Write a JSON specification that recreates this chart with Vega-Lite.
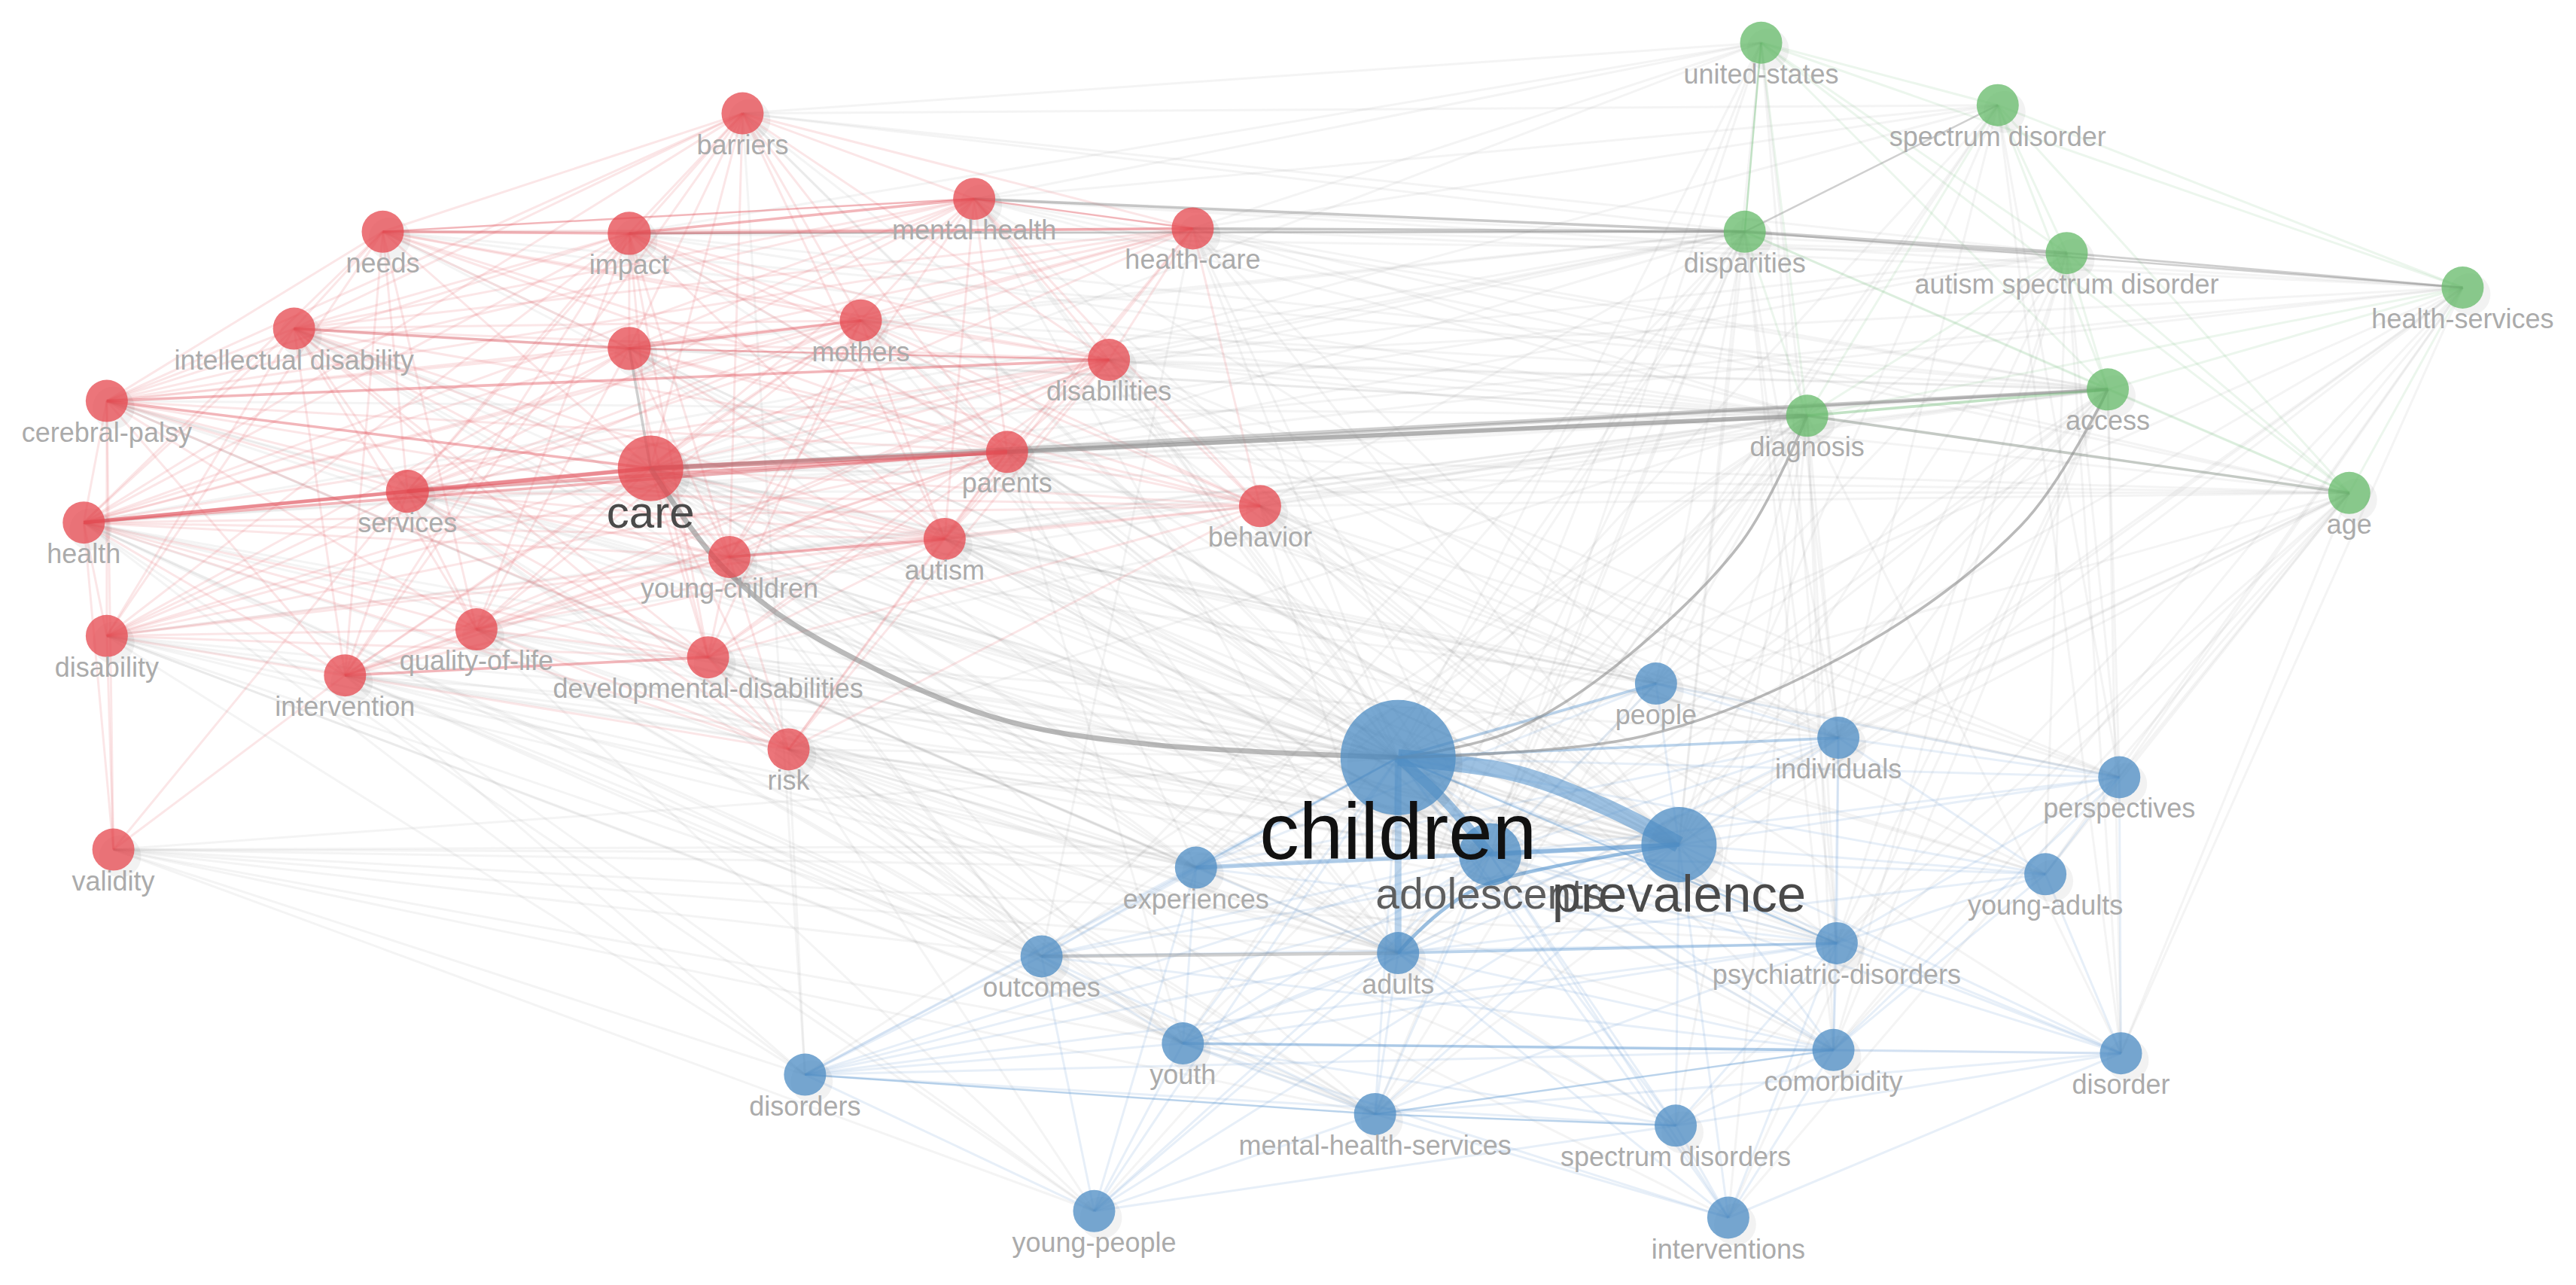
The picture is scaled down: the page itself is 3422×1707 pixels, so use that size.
{
"$schema":"https://vega.github.io/schema/vega-lite/v6.json",
"autosize":{"type":"fit","contains":"padding"},
"width":3422,"height":1707,"padding":0,"background":"white",
"config":{"view":{"stroke":null}},
"resolve":{"scale":{"size":"independent"}},
"datasets":{
"nodes":[
{"id":"bar","label":"barriers","cluster":"red","x":452,"y":69,"occ":134},
{"id":"nee","label":"needs","cluster":"red","x":233,"y":141,"occ":134},
{"id":"imp","label":"impact","cluster":"red","x":383,"y":142,"occ":140},
{"id":"men","label":"mental-health","cluster":"red","x":593,"y":121,"occ":134},
{"id":"hca","label":"health-care","cluster":"red","x":726,"y":139,"occ":134},
{"id":"int","label":"intellectual disability","cluster":"red","x":179,"y":200,"occ":134},
{"id":"unl","label":"","cluster":"red","x":383,"y":212,"occ":140},
{"id":"dis","label":"disabilities","cluster":"red","x":675,"y":219,"occ":134},
{"id":"mot","label":"mothers","cluster":"red","x":524,"y":195,"occ":134},
{"id":"cer","label":"cerebral-palsy","cluster":"red","x":65,"y":244,"occ":134},
{"id":"car","label":"care","cluster":"red","x":396,"y":285,"occ":325},
{"id":"ser","label":"services","cluster":"red","x":248,"y":299,"occ":140},
{"id":"par","label":"parents","cluster":"red","x":613,"y":275,"occ":134},
{"id":"beh","label":"behavior","cluster":"red","x":767,"y":308,"occ":134},
{"id":"hea","label":"health","cluster":"red","x":51,"y":318,"occ":134},
{"id":"yng","label":"young-children","cluster":"red","x":444,"y":339,"occ":134},
{"id":"aut","label":"autism","cluster":"red","x":575,"y":328,"occ":134},
{"id":"dbl","label":"disability","cluster":"red","x":65,"y":387,"occ":134},
{"id":"qol","label":"quality-of-life","cluster":"red","x":290,"y":383,"occ":134},
{"id":"dev","label":"developmental-disabilities","cluster":"red","x":431,"y":400,"occ":134},
{"id":"itv","label":"intervention","cluster":"red","x":210,"y":411,"occ":134},
{"id":"ris","label":"risk","cluster":"red","x":480,"y":456,"occ":134},
{"id":"val","label":"validity","cluster":"red","x":69,"y":517,"occ":134},
{"id":"uni","label":"united-states","cluster":"green","x":1072,"y":26,"occ":134},
{"id":"spe","label":"spectrum disorder","cluster":"green","x":1216,"y":64,"occ":134},
{"id":"dpa","label":"disparities","cluster":"green","x":1062,"y":141,"occ":134},
{"id":"asd","label":"autism spectrum disorder","cluster":"green","x":1258,"y":154,"occ":134},
{"id":"hse","label":"health-services","cluster":"green","x":1499,"y":175,"occ":134},
{"id":"acc","label":"access","cluster":"green","x":1283,"y":237,"occ":134},
{"id":"dia","label":"diagnosis","cluster":"green","x":1100,"y":253,"occ":134},
{"id":"age","label":"age","cluster":"green","x":1430,"y":300,"occ":134},
{"id":"peo","label":"people","cluster":"blue","x":1008,"y":416,"occ":134},
{"id":"ind","label":"individuals","cluster":"blue","x":1119,"y":449,"occ":134},
{"id":"per","label":"perspectives","cluster":"blue","x":1290,"y":473,"occ":134},
{"id":"chi","label":"children","cluster":"blue","x":851,"y":461,"occ":1000},
{"id":"pre","label":"prevalence","cluster":"blue","x":1022,"y":514,"occ":427},
{"id":"ado","label":"adolescents","cluster":"blue","x":907,"y":520,"occ":295},
{"id":"exp","label":"experiences","cluster":"blue","x":728,"y":528,"occ":134},
{"id":"yad","label":"young-adults","cluster":"blue","x":1245,"y":532,"occ":134},
{"id":"out","label":"outcomes","cluster":"blue","x":634,"y":582,"occ":134},
{"id":"adu","label":"adults","cluster":"blue","x":851,"y":580,"occ":134},
{"id":"psy","label":"psychiatric-disorders","cluster":"blue","x":1118,"y":574,"occ":134},
{"id":"you","label":"youth","cluster":"blue","x":720,"y":635,"occ":134},
{"id":"com","label":"comorbidity","cluster":"blue","x":1116,"y":639,"occ":134},
{"id":"dso","label":"disorder","cluster":"blue","x":1291,"y":641,"occ":134},
{"id":"dsr","label":"disorders","cluster":"blue","x":490,"y":654,"occ":134},
{"id":"mhs","label":"mental-health-services","cluster":"blue","x":837,"y":678,"occ":134},
{"id":"sdi","label":"spectrum disorders","cluster":"blue","x":1020,"y":685,"occ":134},
{"id":"ypl","label":"young-people","cluster":"blue","x":666,"y":737,"occ":134},
{"id":"ivn","label":"interventions","cluster":"blue","x":1052,"y":741,"occ":134}
],
"links_between":[
{"a":"bar","b":"uni"},{"a":"bar","b":"spe"},{"a":"bar","b":"dpa"},{"a":"bar","b":"asd"},{"a":"bar","b":"chi"},{"a":"bar","b":"pre"},{"a":"bar","b":"dsr"},{"a":"bar","b":"ado"},
{"a":"nee","b":"dpa"},{"a":"nee","b":"chi"},{"a":"nee","b":"dia"},{"a":"nee","b":"acc"},{"a":"nee","b":"pre"},
{"a":"imp","b":"dpa"},{"a":"imp","b":"dia"},{"a":"imp","b":"chi"},{"a":"imp","b":"pre"},{"a":"imp","b":"acc"},{"a":"imp","b":"asd"},{"a":"imp","b":"uni"},
{"a":"men","b":"dpa"},{"a":"men","b":"uni"},{"a":"men","b":"spe"},{"a":"men","b":"asd"},{"a":"men","b":"dia"},{"a":"men","b":"acc"},{"a":"men","b":"chi"},{"a":"men","b":"pre"},{"a":"men","b":"ado"},{"a":"men","b":"adu"},{"a":"men","b":"ind"},{"a":"men","b":"hse"},{"a":"men","b":"age"},
{"a":"hca","b":"dpa"},{"a":"hca","b":"uni"},{"a":"hca","b":"spe"},{"a":"hca","b":"asd"},{"a":"hca","b":"hse"},{"a":"hca","b":"acc"},{"a":"hca","b":"dia"},{"a":"hca","b":"age"},{"a":"hca","b":"chi"},{"a":"hca","b":"pre"},{"a":"hca","b":"ado"},{"a":"hca","b":"peo"},{"a":"hca","b":"out"},
{"a":"int","b":"chi"},{"a":"int","b":"pre"},{"a":"int","b":"dia"},{"a":"int","b":"adu"},{"a":"int","b":"ado"},{"a":"int","b":"exp"},
{"a":"unl","b":"chi"},{"a":"unl","b":"pre"},{"a":"unl","b":"dia"},{"a":"unl","b":"acc"},{"a":"unl","b":"dpa"},{"a":"unl","b":"ado"},{"a":"unl","b":"adu"},
{"a":"dis","b":"dia"},{"a":"dis","b":"acc"},{"a":"dis","b":"dpa"},{"a":"dis","b":"asd"},{"a":"dis","b":"chi"},{"a":"dis","b":"pre"},{"a":"dis","b":"ado"},{"a":"dis","b":"ind"},{"a":"dis","b":"peo"},{"a":"dis","b":"per"},{"a":"dis","b":"age"},{"a":"dis","b":"hse"},
{"a":"mot","b":"dia"},{"a":"mot","b":"acc"},{"a":"mot","b":"dpa"},{"a":"mot","b":"chi"},{"a":"mot","b":"pre"},{"a":"mot","b":"ado"},{"a":"mot","b":"adu"},{"a":"mot","b":"per"},
{"a":"cer","b":"chi"},{"a":"cer","b":"pre"},{"a":"cer","b":"ado"},{"a":"cer","b":"adu"},{"a":"cer","b":"dia"},{"a":"cer","b":"exp"},
{"a":"car","b":"pre"},{"a":"car","b":"ado"},{"a":"car","b":"adu"},{"a":"car","b":"dpa"},{"a":"car","b":"asd"},{"a":"car","b":"age"},{"a":"car","b":"hse"},{"a":"car","b":"uni"},{"a":"car","b":"spe"},{"a":"car","b":"peo"},{"a":"car","b":"ind"},{"a":"car","b":"out"},{"a":"car","b":"you"},{"a":"car","b":"mhs"},{"a":"car","b":"exp"},{"a":"car","b":"psy"},{"a":"car","b":"per"},{"a":"car","b":"yad"},{"a":"car","b":"com"},{"a":"car","b":"sdi"},
{"a":"ser","b":"chi"},{"a":"ser","b":"pre"},{"a":"ser","b":"ado"},{"a":"ser","b":"dia"},{"a":"ser","b":"acc"},{"a":"ser","b":"dpa"},{"a":"ser","b":"you"},{"a":"ser","b":"mhs"},{"a":"ser","b":"age"},{"a":"ser","b":"out"},
{"a":"par","b":"chi"},{"a":"par","b":"pre"},{"a":"par","b":"ado"},{"a":"par","b":"dpa"},{"a":"par","b":"asd"},{"a":"par","b":"adu"},{"a":"par","b":"psy"},{"a":"par","b":"exp"},{"a":"par","b":"ind"},{"a":"par","b":"peo"},{"a":"par","b":"age"},{"a":"par","b":"hse"},{"a":"par","b":"you"},
{"a":"beh","b":"chi"},{"a":"beh","b":"pre"},{"a":"beh","b":"ado"},{"a":"beh","b":"dia"},{"a":"beh","b":"acc"},{"a":"beh","b":"dpa"},{"a":"beh","b":"psy"},{"a":"beh","b":"ind"},{"a":"beh","b":"peo"},{"a":"beh","b":"adu"},{"a":"beh","b":"per"},{"a":"beh","b":"com"},{"a":"beh","b":"age"},{"a":"beh","b":"yad"},{"a":"beh","b":"dso"},
{"a":"hea","b":"chi"},{"a":"hea","b":"pre"},{"a":"hea","b":"ado"},{"a":"hea","b":"adu"},{"a":"hea","b":"dia"},{"a":"hea","b":"acc"},{"a":"hea","b":"dpa"},{"a":"hea","b":"you"},{"a":"hea","b":"mhs"},{"a":"hea","b":"out"},{"a":"hea","b":"ypl"},{"a":"hea","b":"dsr"},
{"a":"yng","b":"chi"},{"a":"yng","b":"pre"},{"a":"yng","b":"ado"},{"a":"yng","b":"adu"},{"a":"yng","b":"exp"},{"a":"yng","b":"dia"},{"a":"yng","b":"out"},{"a":"yng","b":"acc"},{"a":"yng","b":"peo"},{"a":"yng","b":"psy"},
{"a":"aut","b":"chi"},{"a":"aut","b":"pre"},{"a":"aut","b":"ado"},{"a":"aut","b":"dia"},{"a":"aut","b":"acc"},{"a":"aut","b":"adu"},{"a":"aut","b":"psy"},{"a":"aut","b":"ind"},{"a":"aut","b":"peo"},{"a":"aut","b":"com"},{"a":"aut","b":"per"},{"a":"aut","b":"yad"},
{"a":"dbl","b":"chi"},{"a":"dbl","b":"pre"},{"a":"dbl","b":"ado"},{"a":"dbl","b":"adu"},{"a":"dbl","b":"exp"},{"a":"dbl","b":"out"},{"a":"dbl","b":"you"},{"a":"dbl","b":"dsr"},{"a":"dbl","b":"mhs"},{"a":"dbl","b":"dia"},
{"a":"qol","b":"chi"},{"a":"qol","b":"pre"},{"a":"qol","b":"ado"},{"a":"qol","b":"adu"},{"a":"qol","b":"dia"},{"a":"qol","b":"out"},{"a":"qol","b":"exp"},{"a":"qol","b":"mhs"},{"a":"qol","b":"you"},{"a":"qol","b":"ypl"},
{"a":"dev","b":"chi"},{"a":"dev","b":"pre"},{"a":"dev","b":"ado"},{"a":"dev","b":"adu"},{"a":"dev","b":"dia"},{"a":"dev","b":"psy"},{"a":"dev","b":"exp"},{"a":"dev","b":"out"},{"a":"dev","b":"you"},{"a":"dev","b":"ind"},
{"a":"itv","b":"chi"},{"a":"itv","b":"pre"},{"a":"itv","b":"ado"},{"a":"itv","b":"adu"},{"a":"itv","b":"dsr"},{"a":"itv","b":"out"},{"a":"itv","b":"you"},{"a":"itv","b":"ypl"},{"a":"itv","b":"mhs"},{"a":"itv","b":"exp"},
{"a":"ris","b":"chi"},{"a":"ris","b":"pre"},{"a":"ris","b":"ado"},{"a":"ris","b":"adu"},{"a":"ris","b":"exp"},{"a":"ris","b":"out"},{"a":"ris","b":"dsr"},{"a":"ris","b":"you"},{"a":"ris","b":"psy"},{"a":"ris","b":"com"},{"a":"ris","b":"dia"},{"a":"ris","b":"ivn"},{"a":"ris","b":"sdi"},{"a":"ris","b":"ypl"},{"a":"ris","b":"mhs"},
{"a":"val","b":"chi"},{"a":"val","b":"pre"},{"a":"val","b":"ado"},{"a":"val","b":"exp"},{"a":"val","b":"adu"},{"a":"val","b":"out"},{"a":"val","b":"dsr"},{"a":"val","b":"ypl"},{"a":"val","b":"mhs"},{"a":"val","b":"you"},{"a":"val","b":"psy"},
{"a":"uni","b":"chi"},{"a":"uni","b":"pre"},{"a":"uni","b":"ado"},{"a":"uni","b":"adu"},{"a":"uni","b":"psy"},{"a":"uni","b":"ind"},
{"a":"spe","b":"chi"},{"a":"spe","b":"pre"},{"a":"spe","b":"ado"},{"a":"spe","b":"adu"},{"a":"spe","b":"per"},{"a":"spe","b":"ind"},{"a":"spe","b":"dso"},
{"a":"dpa","b":"chi"},{"a":"dpa","b":"pre"},{"a":"dpa","b":"ado"},{"a":"dpa","b":"adu"},{"a":"dpa","b":"psy"},{"a":"dpa","b":"ind"},{"a":"dpa","b":"mhs"},{"a":"dpa","b":"out"},{"a":"dpa","b":"you"},{"a":"dpa","b":"com"},{"a":"dpa","b":"exp"},{"a":"dpa","b":"peo"},
{"a":"asd","b":"chi"},{"a":"asd","b":"pre"},{"a":"asd","b":"adu"},{"a":"asd","b":"ind"},{"a":"asd","b":"per"},{"a":"asd","b":"yad"},{"a":"asd","b":"psy"},{"a":"asd","b":"dso"},{"a":"asd","b":"com"},
{"a":"hse","b":"chi"},{"a":"hse","b":"pre"},{"a":"hse","b":"ado"},{"a":"hse","b":"per"},{"a":"hse","b":"yad"},{"a":"hse","b":"dso"},{"a":"hse","b":"ind"},{"a":"hse","b":"psy"},{"a":"hse","b":"mhs"},{"a":"hse","b":"com"},
{"a":"acc","b":"pre"},{"a":"acc","b":"ado"},{"a":"acc","b":"peo"},{"a":"acc","b":"ind"},{"a":"acc","b":"per"},{"a":"acc","b":"dso"},{"a":"acc","b":"psy"},{"a":"acc","b":"mhs"},{"a":"acc","b":"com"},{"a":"acc","b":"adu"},{"a":"acc","b":"ivn"},
{"a":"dia","b":"pre"},{"a":"dia","b":"ado"},{"a":"dia","b":"adu"},{"a":"dia","b":"peo"},{"a":"dia","b":"ind"},{"a":"dia","b":"psy"},{"a":"dia","b":"you"},{"a":"dia","b":"com"},{"a":"dia","b":"out"},{"a":"dia","b":"exp"},{"a":"dia","b":"sdi"},{"a":"dia","b":"mhs"},{"a":"dia","b":"ivn"},{"a":"dia","b":"ypl"},{"a":"dia","b":"dsr"},{"a":"dia","b":"dso"},
{"a":"age","b":"chi"},{"a":"age","b":"pre"},{"a":"age","b":"ado"},{"a":"age","b":"adu"},{"a":"age","b":"ind"},{"a":"age","b":"per"},{"a":"age","b":"yad"},{"a":"age","b":"dso"},{"a":"age","b":"psy"},{"a":"age","b":"com"},{"a":"age","b":"sdi"},{"a":"age","b":"ivn"}
],
"links_red":[
{"a":"bar","b":"nee"},{"a":"bar","b":"imp"},{"a":"bar","b":"men"},{"a":"bar","b":"hca"},{"a":"bar","b":"int"},{"a":"bar","b":"unl"},{"a":"bar","b":"mot"},{"a":"bar","b":"dis"},{"a":"bar","b":"car"},{"a":"bar","b":"ser"},{"a":"bar","b":"par"},{"a":"bar","b":"yng"},{"a":"bar","b":"aut"},{"a":"bar","b":"hea"},{"a":"bar","b":"cer"},{"a":"bar","b":"itv"},
{"a":"nee","b":"hca"},{"a":"nee","b":"int"},{"a":"nee","b":"unl"},{"a":"nee","b":"mot"},{"a":"nee","b":"dis"},{"a":"nee","b":"car"},{"a":"nee","b":"ser"},{"a":"nee","b":"par"},{"a":"nee","b":"cer"},{"a":"nee","b":"hea"},{"a":"nee","b":"dbl"},{"a":"nee","b":"qol"},{"a":"nee","b":"itv"},{"a":"nee","b":"beh"},
{"a":"imp","b":"int"},{"a":"imp","b":"unl"},{"a":"imp","b":"mot"},{"a":"imp","b":"dis"},{"a":"imp","b":"car"},{"a":"imp","b":"ser"},{"a":"imp","b":"par"},{"a":"imp","b":"cer"},{"a":"imp","b":"hea"},{"a":"imp","b":"yng"},{"a":"imp","b":"aut"},{"a":"imp","b":"beh"},{"a":"imp","b":"dbl"},{"a":"imp","b":"qol"},{"a":"imp","b":"dev"},{"a":"imp","b":"itv"},
{"a":"men","b":"unl"},{"a":"men","b":"mot"},{"a":"men","b":"dis"},{"a":"men","b":"car"},{"a":"men","b":"par"},{"a":"men","b":"ser"},{"a":"men","b":"int"},{"a":"men","b":"cer"},{"a":"men","b":"hea"},{"a":"men","b":"yng"},{"a":"men","b":"aut"},{"a":"men","b":"beh"},
{"a":"hca","b":"unl"},{"a":"hca","b":"mot"},{"a":"hca","b":"dis"},{"a":"hca","b":"car"},{"a":"hca","b":"par"},{"a":"hca","b":"ser"},{"a":"hca","b":"cer"},{"a":"hca","b":"hea"},{"a":"hca","b":"beh"},{"a":"hca","b":"int"},{"a":"hca","b":"aut"},
{"a":"int","b":"mot"},{"a":"int","b":"dis"},{"a":"int","b":"cer"},{"a":"int","b":"car"},{"a":"int","b":"ser"},{"a":"int","b":"par"},{"a":"int","b":"hea"},{"a":"int","b":"dbl"},{"a":"int","b":"qol"},{"a":"int","b":"dev"},{"a":"int","b":"itv"},{"a":"int","b":"aut"},{"a":"int","b":"yng"},{"a":"int","b":"ris"},
{"a":"unl","b":"ser"},{"a":"unl","b":"par"},{"a":"unl","b":"cer"},{"a":"unl","b":"hea"},{"a":"unl","b":"dbl"},{"a":"unl","b":"beh"},{"a":"unl","b":"yng"},{"a":"unl","b":"aut"},{"a":"unl","b":"qol"},{"a":"unl","b":"dev"},
{"a":"mot","b":"dis"},{"a":"mot","b":"car"},{"a":"mot","b":"ser"},{"a":"mot","b":"par"},{"a":"mot","b":"cer"},{"a":"mot","b":"hea"},{"a":"mot","b":"dbl"},{"a":"mot","b":"yng"},{"a":"mot","b":"aut"},{"a":"mot","b":"beh"},{"a":"mot","b":"dev"},{"a":"mot","b":"itv"},{"a":"mot","b":"qol"},
{"a":"dis","b":"car"},{"a":"dis","b":"ser"},{"a":"dis","b":"par"},{"a":"dis","b":"hea"},{"a":"dis","b":"dbl"},{"a":"dis","b":"beh"},{"a":"dis","b":"aut"},{"a":"dis","b":"yng"},{"a":"dis","b":"qol"},{"a":"dis","b":"dev"},{"a":"dis","b":"itv"},{"a":"dis","b":"ris"},
{"a":"cer","b":"ser"},{"a":"cer","b":"hea"},{"a":"cer","b":"dbl"},{"a":"cer","b":"par"},{"a":"cer","b":"qol"},{"a":"cer","b":"itv"},{"a":"cer","b":"yng"},{"a":"cer","b":"aut"},{"a":"cer","b":"dev"},{"a":"cer","b":"val"},
{"a":"car","b":"beh"},{"a":"car","b":"yng"},{"a":"car","b":"aut"},{"a":"car","b":"dbl"},{"a":"car","b":"qol"},{"a":"car","b":"dev"},{"a":"car","b":"itv"},{"a":"car","b":"ris"},
{"a":"ser","b":"beh"},{"a":"ser","b":"yng"},{"a":"ser","b":"aut"},{"a":"ser","b":"dbl"},{"a":"ser","b":"qol"},{"a":"ser","b":"dev"},{"a":"ser","b":"itv"},{"a":"ser","b":"val"},{"a":"ser","b":"ris"},
{"a":"par","b":"beh"},{"a":"par","b":"yng"},{"a":"par","b":"aut"},{"a":"par","b":"dbl"},{"a":"par","b":"qol"},{"a":"par","b":"dev"},{"a":"par","b":"itv"},{"a":"par","b":"ris"},
{"a":"beh","b":"yng"},{"a":"beh","b":"aut"},{"a":"beh","b":"hea"},{"a":"beh","b":"dev"},{"a":"beh","b":"ris"},
{"a":"hea","b":"dbl"},{"a":"hea","b":"qol"},{"a":"hea","b":"dev"},{"a":"hea","b":"itv"},{"a":"hea","b":"yng"},{"a":"hea","b":"aut"},{"a":"hea","b":"val"},{"a":"hea","b":"ris"},
{"a":"yng","b":"dbl"},{"a":"yng","b":"qol"},{"a":"yng","b":"dev"},{"a":"yng","b":"itv"},{"a":"yng","b":"ris"},
{"a":"aut","b":"dev"},{"a":"aut","b":"dbl"},{"a":"aut","b":"qol"},{"a":"aut","b":"itv"},{"a":"aut","b":"ris"},
{"a":"dbl","b":"qol"},{"a":"dbl","b":"dev"},{"a":"dbl","b":"itv"},{"a":"dbl","b":"val"},
{"a":"qol","b":"dev"},{"a":"qol","b":"itv"},{"a":"qol","b":"ris"},{"a":"dev","b":"ris"},{"a":"itv","b":"val"},{"a":"itv","b":"ris"}
],
"links_green":[
{"a":"uni","b":"spe"},{"a":"uni","b":"asd"},{"a":"uni","b":"dia"},{"a":"uni","b":"acc"},{"a":"uni","b":"hse"},{"a":"uni","b":"age"},
{"a":"spe","b":"asd"},{"a":"spe","b":"acc"},{"a":"spe","b":"hse"},{"a":"spe","b":"dia"},{"a":"spe","b":"age"},
{"a":"dpa","b":"dia"},{"a":"dpa","b":"acc"},{"a":"dpa","b":"age"},
{"a":"asd","b":"acc"},{"a":"asd","b":"dia"},{"a":"asd","b":"age"},
{"a":"hse","b":"acc"},{"a":"hse","b":"dia"},{"a":"hse","b":"age"},{"a":"acc","b":"age"},{"a":"dia","b":"age"}
],
"links_blue":[
{"a":"chi","b":"per"},{"a":"chi","b":"yad"},{"a":"chi","b":"out"},{"a":"chi","b":"you"},{"a":"chi","b":"com"},{"a":"chi","b":"dso"},{"a":"chi","b":"dsr"},{"a":"chi","b":"mhs"},{"a":"chi","b":"sdi"},{"a":"chi","b":"ypl"},{"a":"chi","b":"ivn"},
{"a":"pre","b":"peo"},{"a":"pre","b":"ind"},{"a":"pre","b":"per"},{"a":"pre","b":"yad"},{"a":"pre","b":"out"},{"a":"pre","b":"you"},{"a":"pre","b":"com"},{"a":"pre","b":"dso"},{"a":"pre","b":"dsr"},{"a":"pre","b":"mhs"},{"a":"pre","b":"sdi"},{"a":"pre","b":"ivn"},{"a":"pre","b":"ypl"},
{"a":"ado","b":"exp"},{"a":"ado","b":"out"},{"a":"ado","b":"psy"},{"a":"ado","b":"you"},{"a":"ado","b":"ind"},{"a":"ado","b":"peo"},{"a":"ado","b":"per"},{"a":"ado","b":"yad"},{"a":"ado","b":"com"},{"a":"ado","b":"dso"},{"a":"ado","b":"dsr"},{"a":"ado","b":"mhs"},{"a":"ado","b":"sdi"},{"a":"ado","b":"ypl"},{"a":"ado","b":"ivn"},
{"a":"adu","b":"exp"},{"a":"adu","b":"you"},{"a":"adu","b":"mhs"},{"a":"adu","b":"com"},{"a":"adu","b":"dsr"},{"a":"adu","b":"ypl"},{"a":"adu","b":"ivn"},{"a":"adu","b":"sdi"},{"a":"adu","b":"ind"},{"a":"adu","b":"yad"},
{"a":"you","b":"mhs"},{"a":"you","b":"dsr"},{"a":"you","b":"ypl"},{"a":"you","b":"out"},{"a":"you","b":"exp"},{"a":"you","b":"psy"},{"a":"you","b":"sdi"},{"a":"you","b":"dso"},{"a":"you","b":"ivn"},
{"a":"mhs","b":"ypl"},{"a":"mhs","b":"ivn"},{"a":"mhs","b":"psy"},{"a":"mhs","b":"out"},{"a":"mhs","b":"dso"},
{"a":"dsr","b":"ypl"},{"a":"dsr","b":"com"},{"a":"dsr","b":"out"},{"a":"dsr","b":"exp"},{"a":"dsr","b":"psy"},{"a":"dsr","b":"sdi"},
{"a":"ypl","b":"out"},{"a":"ypl","b":"sdi"},{"a":"ypl","b":"exp"},
{"a":"sdi","b":"com"},{"a":"sdi","b":"ivn"},{"a":"sdi","b":"psy"},{"a":"sdi","b":"dso"},
{"a":"ivn","b":"com"},{"a":"ivn","b":"psy"},{"a":"ivn","b":"dso"},
{"a":"com","b":"psy"},{"a":"com","b":"dso"},{"a":"com","b":"per"},{"a":"com","b":"yad"},{"a":"com","b":"ind"},
{"a":"psy","b":"ind"},{"a":"psy","b":"per"},{"a":"psy","b":"yad"},{"a":"psy","b":"dso"},{"a":"psy","b":"exp"},{"a":"psy","b":"out"},
{"a":"yad","b":"per"},{"a":"yad","b":"ind"},{"a":"yad","b":"dso"},{"a":"per","b":"ind"},{"a":"per","b":"dso"},{"a":"per","b":"peo"},{"a":"ind","b":"peo"},
{"a":"exp","b":"out"},{"a":"exp","b":"peo"},{"a":"exp","b":"ind"},{"a":"out","b":"com"}
],
"links_strong":[
{"a":"car","b":"acc","w":2,"k":"between"},{"a":"car","b":"dia","w":2.5,"k":"between"},{"a":"par","b":"dia","w":2.5,"k":"between"},{"a":"par","b":"acc","w":1.5,"k":"between"},{"a":"men","b":"dpa","w":1.5,"k":"between"},{"a":"hca","b":"dpa","w":1.5,"k":"between"},{"a":"imp","b":"dpa","w":1,"k":"between"},{"a":"age","b":"dia","w":1.5,"k":"between"},{"a":"hse","b":"dpa","w":1,"k":"between"},{"a":"hse","b":"asd","w":1.2,"k":"between"},{"a":"unl","b":"car","w":1.5,"k":"between"},{"a":"out","b":"adu","w":2,"k":"between"},
{"a":"dpa","b":"asd","w":2,"k":"between"},{"a":"acc","b":"dia","w":1.5,"k":"green"},{"a":"uni","b":"dpa","w":1,"k":"green"},{"a":"spe","b":"dpa","w":1,"k":"between"},
{"a":"nee","b":"imp","w":1.5,"k":"red"},{"a":"imp","b":"men","w":1.5,"k":"red"},{"a":"men","b":"hca","w":1,"k":"red"},{"a":"imp","b":"hca","w":1.5,"k":"red"},{"a":"nee","b":"men","w":1,"k":"red"},{"a":"int","b":"unl","w":1.5,"k":"red"},{"a":"unl","b":"mot","w":1.5,"k":"red"},{"a":"cer","b":"dis","w":1.5,"k":"red"},{"a":"cer","b":"car","w":1.5,"k":"red"},{"a":"hea","b":"car","w":2,"k":"red"},{"a":"hea","b":"par","w":1.5,"k":"red"},{"a":"hea","b":"ser","w":2,"k":"red"},{"a":"ser","b":"car","w":2.5,"k":"red"},{"a":"ser","b":"par","w":2,"k":"red"},{"a":"car","b":"par","w":3,"k":"red"},{"a":"yng","b":"aut","w":1.5,"k":"red"},{"a":"itv","b":"dev","w":1.5,"k":"red"},{"a":"unl","b":"dis","w":1,"k":"red"},
{"a":"chi","b":"adu","w":4,"k":"blue"},{"a":"pre","b":"exp","w":2.5,"k":"blue"},{"a":"pre","b":"ado","w":2.5,"k":"blue"},{"a":"adu","b":"psy","w":1.5,"k":"blue"},{"a":"you","b":"com","w":1.5,"k":"blue"},{"a":"dsr","b":"mhs","w":1,"k":"blue"},{"a":"mhs","b":"sdi","w":1,"k":"blue"},{"a":"chi","b":"peo","w":1.5,"k":"blue"},{"a":"chi","b":"ind","w":1.5,"k":"blue"},{"a":"chi","b":"psy","w":1,"k":"blue"},{"a":"mhs","b":"com","w":1,"k":"blue"},{"a":"chi","b":"exp","w":1,"k":"blue"}
],
"curves":[
{"edge":"care-children","k":"between","w":3,"step":1,"x":396,"y":285},{"edge":"care-children","k":"between","w":3,"step":2,"x":440,"y":345},{"edge":"care-children","k":"between","w":3,"step":3,"x":500,"y":390},{"edge":"care-children","k":"between","w":3,"step":4,"x":600,"y":435},{"edge":"care-children","k":"between","w":3,"step":5,"x":700,"y":453},{"edge":"care-children","k":"between","w":3,"step":6,"x":851,"y":461},
{"edge":"children-prevalence","k":"blue","w":10,"step":1,"x":851,"y":461},{"edge":"children-prevalence","k":"blue","w":10,"step":2,"x":920,"y":470},{"edge":"children-prevalence","k":"blue","w":10,"step":3,"x":975,"y":490},{"edge":"children-prevalence","k":"blue","w":10,"step":4,"x":1022,"y":514},
{"edge":"children-adolescents","k":"blue","w":6,"step":1,"x":851,"y":461},{"edge":"children-adolescents","k":"blue","w":6,"step":2,"x":880,"y":488},{"edge":"children-adolescents","k":"blue","w":6,"step":3,"x":907,"y":520},
{"edge":"adults-prevalence","k":"blue","w":2,"step":1,"x":851,"y":580},{"edge":"adults-prevalence","k":"blue","w":2,"step":2,"x":905,"y":538},{"edge":"adults-prevalence","k":"blue","w":2,"step":3,"x":1022,"y":514},
{"edge":"diagnosis-children","k":"between","w":1.5,"step":1,"x":1100,"y":253},{"edge":"diagnosis-children","k":"between","w":1.5,"step":2,"x":1060,"y":330},{"edge":"diagnosis-children","k":"between","w":1.5,"step":3,"x":990,"y":400},{"edge":"diagnosis-children","k":"between","w":1.5,"step":4,"x":920,"y":445},{"edge":"diagnosis-children","k":"between","w":1.5,"step":5,"x":851,"y":461},
{"edge":"access-children","k":"between","w":1.5,"step":1,"x":1283,"y":237},{"edge":"access-children","k":"between","w":1.5,"step":2,"x":1230,"y":320},{"edge":"access-children","k":"between","w":1.5,"step":3,"x":1130,"y":395},{"edge":"access-children","k":"between","w":1.5,"step":4,"x":1000,"y":448},{"edge":"access-children","k":"between","w":1.5,"step":5,"x":851,"y":461}
]
},
"layer":[
{"data":{"name":"links_between"},
"transform":[{"lookup":"a","from":{"data":{"name":"nodes"},"key":"id","fields":["x","y"]},"as":["ax","ay"]},{"lookup":"b","from":{"data":{"name":"nodes"},"key":"id","fields":["x","y"]},"as":["bx","by"]}],
"mark":{"type":"rule","color":"#8a8a8a","opacity":0.09,"strokeWidth":3},
"encoding":{"x":{"field":"ax","type":"quantitative","scale":{"domain":[0,1568],"nice":false,"zero":false},"axis":null},"y":{"field":"ay","type":"quantitative","scale":{"domain":[782,0],"nice":false,"zero":false},"axis":null},"x2":{"field":"bx"},"y2":{"field":"by"}}},
{"data":{"name":"links_red"},
"transform":[{"lookup":"a","from":{"data":{"name":"nodes"},"key":"id","fields":["x","y"]},"as":["ax","ay"]},{"lookup":"b","from":{"data":{"name":"nodes"},"key":"id","fields":["x","y"]},"as":["bx","by"]}],
"mark":{"type":"rule","color":"#ea6a72","opacity":0.17,"strokeWidth":3},
"encoding":{"x":{"field":"ax","type":"quantitative","scale":{"domain":[0,1568],"nice":false,"zero":false},"axis":null},"y":{"field":"ay","type":"quantitative","scale":{"domain":[782,0],"nice":false,"zero":false},"axis":null},"x2":{"field":"bx"},"y2":{"field":"by"}}},
{"data":{"name":"links_green"},
"transform":[{"lookup":"a","from":{"data":{"name":"nodes"},"key":"id","fields":["x","y"]},"as":["ax","ay"]},{"lookup":"b","from":{"data":{"name":"nodes"},"key":"id","fields":["x","y"]},"as":["bx","by"]}],
"mark":{"type":"rule","color":"#7fc488","opacity":0.15,"strokeWidth":3},
"encoding":{"x":{"field":"ax","type":"quantitative","scale":{"domain":[0,1568],"nice":false,"zero":false},"axis":null},"y":{"field":"ay","type":"quantitative","scale":{"domain":[782,0],"nice":false,"zero":false},"axis":null},"x2":{"field":"bx"},"y2":{"field":"by"}}},
{"data":{"name":"links_blue"},
"transform":[{"lookup":"a","from":{"data":{"name":"nodes"},"key":"id","fields":["x","y"]},"as":["ax","ay"]},{"lookup":"b","from":{"data":{"name":"nodes"},"key":"id","fields":["x","y"]},"as":["bx","by"]}],
"mark":{"type":"rule","color":"#6fa3d3","opacity":0.17,"strokeWidth":3},
"encoding":{"x":{"field":"ax","type":"quantitative","scale":{"domain":[0,1568],"nice":false,"zero":false},"axis":null},"y":{"field":"ay","type":"quantitative","scale":{"domain":[782,0],"nice":false,"zero":false},"axis":null},"x2":{"field":"bx"},"y2":{"field":"by"}}},
{"data":{"name":"links_strong"},
"transform":[{"lookup":"a","from":{"data":{"name":"nodes"},"key":"id","fields":["x","y"]},"as":["ax","ay"]},{"lookup":"b","from":{"data":{"name":"nodes"},"key":"id","fields":["x","y"]},"as":["bx","by"]}],
"mark":{"type":"rule","opacity":0.42},
"encoding":{"x":{"field":"ax","type":"quantitative","scale":{"domain":[0,1568],"nice":false,"zero":false},"axis":null},"y":{"field":"ay","type":"quantitative","scale":{"domain":[782,0],"nice":false,"zero":false},"axis":null},"x2":{"field":"bx"},"y2":{"field":"by"},
"color":{"field":"k","type":"nominal","scale":{"domain":["between","red","green","blue"],"range":["#8c8c8c","#e0505a","#6dbb74","#5b97cf"]},"legend":null},
"size":{"field":"w","type":"quantitative","scale":{"domain":[1,10],"range":[2.5,22],"zero":false},"legend":null}}},
{"data":{"name":"curves"},
"mark":{"type":"line","interpolate":"cardinal","opacity":0.6},
"encoding":{"x":{"field":"x","type":"quantitative","scale":{"domain":[0,1568],"nice":false,"zero":false},"axis":null},"y":{"field":"y","type":"quantitative","scale":{"domain":[782,0],"nice":false,"zero":false},"axis":null},"detail":{"field":"edge"},"order":{"field":"step","type":"ordinal"},
"color":{"field":"k","type":"nominal","scale":{"domain":["between","red","green","blue"],"range":["#8c8c8c","#e0505a","#6dbb74","#5b97cf"]},"legend":null},
"size":{"field":"w","type":"quantitative","scale":{"domain":[1,10],"range":[2.5,22],"zero":false},"legend":null}}},
{"data":{"name":"nodes"},
"mark":{"type":"circle","color":"#000000","opacity":0.05,"xOffset":9,"yOffset":9},
"encoding":{"x":{"field":"x","type":"quantitative","scale":{"domain":[0,1568],"nice":false,"zero":false},"axis":null},"y":{"field":"y","type":"quantitative","scale":{"domain":[782,0],"nice":false,"zero":false},"axis":null},
"size":{"field":"occ","type":"quantitative","scale":{"domain":[0,1000],"range":[0,23400]},"legend":null}}},
{"data":{"name":"nodes"},
"mark":{"type":"circle","opacity":0.76},
"encoding":{"x":{"field":"x","type":"quantitative","scale":{"domain":[0,1568],"nice":false,"zero":false},"axis":null},"y":{"field":"y","type":"quantitative","scale":{"domain":[782,0],"nice":false,"zero":false},"axis":null},
"size":{"field":"occ","type":"quantitative","scale":{"domain":[0,1000],"range":[0,23400]},"legend":null},
"fill":{"field":"cluster","type":"nominal","scale":{"domain":["red","green","blue"],"range":["#e64a50","#66bb6a","#4d8cc4"]},"legend":null}}},
{"data":{"name":"nodes"},"transform":[{"filter":"datum.occ < 200"}],
"mark":{"type":"text","font":"Liberation Sans","fontSize":36,"dy":43,"color":"#ababab"},
"encoding":{"x":{"field":"x","type":"quantitative","scale":{"domain":[0,1568],"nice":false,"zero":false},"axis":null},"y":{"field":"y","type":"quantitative","scale":{"domain":[782,0],"nice":false,"zero":false},"axis":null},"text":{"field":"label"}}},
{"data":{"name":"nodes"},"transform":[{"filter":"datum.id === 'car'"}],
"mark":{"type":"text","font":"Liberation Sans","fontSize":60,"dy":61,"color":"#4a4a4a"},
"encoding":{"x":{"field":"x","type":"quantitative","scale":{"domain":[0,1568],"nice":false,"zero":false},"axis":null},"y":{"field":"y","type":"quantitative","scale":{"domain":[782,0],"nice":false,"zero":false},"axis":null},"text":{"field":"label"}}},
{"data":{"name":"nodes"},"transform":[{"filter":"datum.id === 'ado'"}],
"mark":{"type":"text","font":"Liberation Sans","fontSize":57,"dy":55,"color":"#5e5e5e"},
"encoding":{"x":{"field":"x","type":"quantitative","scale":{"domain":[0,1568],"nice":false,"zero":false},"axis":null},"y":{"field":"y","type":"quantitative","scale":{"domain":[782,0],"nice":false,"zero":false},"axis":null},"text":{"field":"label"}}},
{"data":{"name":"nodes"},"transform":[{"filter":"datum.id === 'pre'"}],
"mark":{"type":"text","font":"Liberation Sans","fontSize":69,"dy":68,"color":"#4a4a4a"},
"encoding":{"x":{"field":"x","type":"quantitative","scale":{"domain":[0,1568],"nice":false,"zero":false},"axis":null},"y":{"field":"y","type":"quantitative","scale":{"domain":[782,0],"nice":false,"zero":false},"axis":null},"text":{"field":"label"}}},
{"data":{"name":"nodes"},"transform":[{"filter":"datum.id === 'chi'"}],
"mark":{"type":"text","font":"Liberation Sans","fontSize":105,"dy":103,"color":"#111111"},
"encoding":{"x":{"field":"x","type":"quantitative","scale":{"domain":[0,1568],"nice":false,"zero":false},"axis":null},"y":{"field":"y","type":"quantitative","scale":{"domain":[782,0],"nice":false,"zero":false},"axis":null},"text":{"field":"label"}}}
]
}
